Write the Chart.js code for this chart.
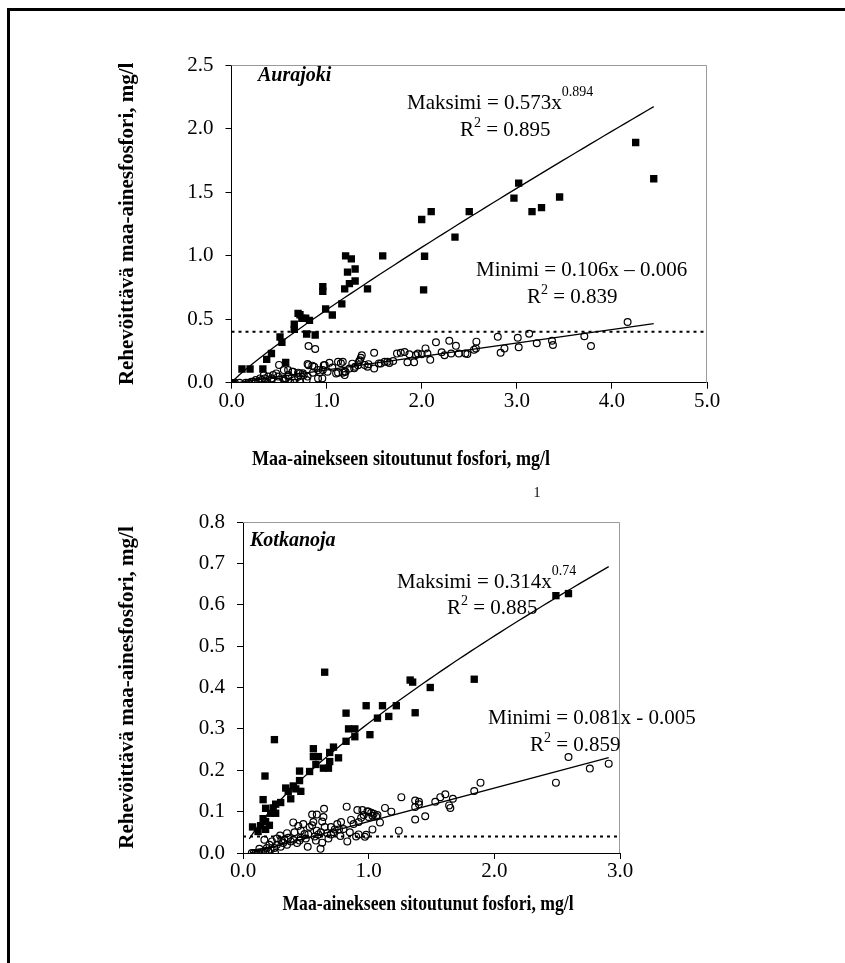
<!DOCTYPE html>
<html>
<head>
<meta charset="utf-8">
<script src="https://cdn.jsdelivr.net/npm/chart.js@4.4.1/dist/chart.umd.min.js"></script>
<style>
  html, body { margin: 0; padding: 0; background: #fff; }
  #page { position: relative; width: 845px; height: 963px; overflow: hidden; background: #fff; }
  #frame { position: absolute; left: 7px; top: 8px; width: 900px; height: 1000px;
           border-left: 3px solid #000; border-top: 3px solid #000; }
  canvas { position: absolute; left: 0; }
  #aura { top: 0; }
  #kotka { top: 480px; }
</style>
</head>
<body>
<div id="page">
  <div id="frame"></div>
  <canvas id="aura" width="845" height="480"></canvas>
  <canvas id="kotka" width="845" height="483"></canvas>
</div>
<script>
// Aurajoki: [soil-bound P, eutrophying P] mg/l
const auraMaksimi = [
  [0.01,0.0],[0.11,0.108],[0.195,0.108],[0.33,0.108],[0.37,0.184],[0.42,0.23],[0.51,0.36],[0.53,0.318],
  [0.57,0.16],[0.66,0.42],[0.66,0.46],[0.70,0.546],[0.72,0.535],[0.74,0.507],[0.78,0.507],[0.82,0.49],
  [0.79,0.383],[0.88,0.375],[0.96,0.756],[0.96,0.72],[0.99,0.58],[1.06,0.533],[1.16,0.62],[1.19,0.738],
  [1.20,0.998],[1.26,0.974],[1.22,0.87],[1.30,0.895],[1.24,0.78],[1.30,0.80],[1.43,0.738],[1.59,0.998],
  [2.00,1.284],[2.10,1.346],[2.03,0.995],[2.02,0.73],[2.35,1.146],[2.50,1.346],[2.97,1.453],[3.02,1.57],
  [3.16,1.346],[3.26,1.378],[3.45,1.461],[4.25,1.89],[4.44,1.605]
];
const auraMinimi = [
  [4.165,0.478],[3.71,0.365],[3.78,0.289],[3.37,0.33],[3.38,0.297],[3.21,0.31],[3.13,0.385],[3.01,0.354],
  [3.02,0.279],[2.80,0.362],[2.87,0.27],[2.83,0.236],[2.575,0.323],[2.57,0.27],[2.55,0.26],[2.46,0.23],
  [2.48,0.226],[2.39,0.23],[2.36,0.29],[2.29,0.33],[2.31,0.23],[2.24,0.216],[2.21,0.24],[2.15,0.318],
  [2.09,0.18],[2.04,0.27],[2.06,0.23],[2.00,0.224],[1.94,0.218],[1.96,0.23],[1.92,0.16],[1.85,0.16],
  [1.87,0.224],[1.82,0.242],[1.78,0.235],[1.74,0.229],[1.70,0.17],[1.66,0.156],[1.61,0.164],[1.57,0.151],
  [1.50,0.236],[1.50,0.112],[1.44,0.146],[1.40,0.14],[1.37,0.216],[1.36,0.196],[1.35,0.177],[1.33,0.138],
  [1.30,0.125],[1.27,0.15],[1.24,0.112],[1.19,0.086],[1.17,0.164],[1.12,0.165],[1.15,0.153],[1.10,0.073],
  [1.19,0.06],[1.06,0.12],[1.03,0.157],[0.98,0.139],[0.97,0.138],[0.955,0.034],[0.93,0.08],[0.91,0.099],
  [0.87,0.125],[0.81,0.289],[0.88,0.265],[0.80,0.147],[0.85,0.134],[0.81,0.138],[0.79,0.021],[0.76,0.06],
  [0.72,0.073],[0.70,0.047],[0.64,0.086],[0.60,0.06],[0.57,0.034],[0.55,0.099],[0.50,0.14],[0.47,0.073],
  [0.42,0.034],[0.38,0.0],[0.34,0.06],[0.30,0.034],[0.255,0.021],[0.21,0.008],[0.15,0.0],[0.085,0.0],
  [0.034,0.0],[0.62,0.0],[0.66,0.0],[0.595,0.10],[0.647,0.087],[0.70,0.079],[0.75,0.074],[0.386,0.048],
  [0.438,0.061],[0.49,0.048],[0.543,0.034],[0.595,0.048],[0.317,0.021],[0.282,0.008],[0.23,0.008],[0.177,0.0],
  [0.96,0.10],[1.01,0.087],[1.12,0.079],[1.17,0.079],[1.20,0.087],[0.80,0.048],[0.856,0.079],[0.91,0.034],
  [0.665,0.021],[0.717,0.008],[0.49,0.008],[0.56,0.016],[0.42,0.021],[0.35,0.034],[1.29,0.113],[1.34,0.165],
  [1.43,0.126],[1.55,0.152],[1.64,0.165]
];
// Kotkanoja
const kotkaMaksimi = [
  [2.49,0.622],[2.59,0.627],[1.84,0.42],[1.49,0.40],[1.33,0.418],[1.35,0.413],[1.37,0.339],[1.22,0.356],
  [1.11,0.356],[1.16,0.33],[1.07,0.326],[0.98,0.356],[1.01,0.286],[0.82,0.338],[0.84,0.30],[0.89,0.30],
  [0.82,0.27],[0.89,0.281],[0.65,0.437],[0.76,0.23],[0.72,0.256],[0.69,0.243],[0.69,0.221],[0.64,0.205],
  [0.68,0.205],[0.56,0.252],[0.56,0.233],[0.60,0.233],[0.58,0.214],[0.53,0.197],[0.45,0.198],[0.45,0.175],
  [0.42,0.155],[0.40,0.162],[0.34,0.157],[0.36,0.149],[0.38,0.131],[0.46,0.149],[0.30,0.122],[0.25,0.274],
  [0.175,0.186],[0.16,0.129],[0.18,0.108],[0.24,0.109],[0.26,0.118],[0.22,0.096],[0.26,0.096],[0.18,0.076],
  [0.16,0.083],[0.14,0.066],[0.21,0.067],[0.18,0.057],[0.12,0.052],[0.076,0.063]
];
const kotkaMinimi = [
  [2.91,0.216],[2.76,0.204],[2.59,0.232],[2.49,0.170],[1.89,0.170],[1.84,0.150],[1.67,0.131],[1.65,0.109],
  [1.64,0.115],[1.61,0.142],[1.57,0.135],[1.53,0.124],[1.45,0.089],[1.40,0.124],[1.40,0.118],[1.37,0.127],
  [1.37,0.111],[1.37,0.081],[1.26,0.135],[1.24,0.054],[1.18,0.100],[1.13,0.109],[1.09,0.074],[1.07,0.092],
  [1.04,0.095],[1.03,0.090],[1.00,0.100],[1.00,0.087],[1.03,0.057],[0.98,0.044],[0.97,0.039],
  [0.825,0.112],[0.91,0.104],[0.95,0.104],[0.99,0.101],[1.02,0.097],[1.06,0.088],[0.645,0.107],[0.55,0.093],
  [0.587,0.093],[0.40,0.074],[0.64,0.087],[0.63,0.076],[0.65,0.063],[0.70,0.063],[0.73,0.057],[0.764,0.057],
  [0.80,0.058],[0.775,0.041],[0.83,0.028],[0.53,0.063],[0.55,0.067],[0.587,0.054],[0.46,0.054],[0.49,0.046],
  [0.46,0.037],[0.515,0.015],[0.617,0.010],[0.41,0.050],[0.40,0.032],[0.43,0.024],[0.36,0.037],[0.33,0.032],
  [0.32,0.024],[0.30,0.015],[0.295,0.042],[0.23,0.028],[0.17,0.032],
  [0.25,0.012],[0.22,0.008],[0.20,0.005],[0.18,0.005],[0.16,0.003],[0.14,0.002],[0.12,0.001],[0.10,0.0],
  [0.085,0.0],[0.07,0.0],[0.27,0.02],[0.35,0.02],[0.38,0.028],[0.45,0.03],[0.50,0.035],[0.52,0.045],
  [0.57,0.04],[0.60,0.045],[0.62,0.05],[0.67,0.048],[0.70,0.045],[0.72,0.05],[0.68,0.035],[0.75,0.07],
  [0.78,0.075],[0.86,0.08],[0.88,0.07],[0.92,0.075],[0.94,0.085],[0.96,0.092],[0.90,0.04],[0.92,0.045],
  [0.85,0.05],[0.56,0.075],[0.48,0.07],[0.44,0.065],[0.58,0.03],[0.63,0.025],[0.35,0.048],[0.27,0.035],
  [0.13,0.01],[0.19,0.012],[0.21,0.02],[0.305,0.03],[0.255,0.0]
];

// fitted equations printed on the chart: power a*x^b, linear a*x+b
const auraMaxFit = [0.573, 0.894];
const auraMinFit = [0.106, -0.006];
const auraFitRange = [0.01, 4.44];
const kotkaMaxFit = [0.314, 0.74];
const kotkaMinFit = [0.081, -0.005];
const kotkaFitRange = [0.05, 2.91];
// dotted threshold lines
const auraLimit = 0.4;
const kotkaLimit = 0.04;

const auraXTicks = [0, 5, 1];
const auraYTicks = [0, 2.5, 0.5];
const kotkaXTicks = [0, 3, 1];
const kotkaYTicks = [0, 0.8, 0.1];

const SERIF = "'Liberation Serif', 'Times New Roman', serif";
const xTitle = "Maa-ainekseen sitoutunut fosfori, mg/l";
const yTitle = "Rehevöittävä maa-ainesfosfori, mg/l";

function pts(list) { return list.map(p => ({ x: p[0], y: p[1] })); }

function powerCurve(fit, range) {
  const out = [];
  const n = 60;
  for (let i = 0; i <= n; i++) {
    const x = range[0] + (range[1] - range[0]) * i / n;
    out.push({ x: x, y: fit[0] * Math.pow(x, fit[1]) });
  }
  return out;
}
function linear(fit, range) {
  const x0 = Math.max(range[0], -fit[1] / fit[0]);
  return [x0, range[1]].map(x => ({ x: x, y: fit[0] * x + fit[1] }));
}

// text annotations, x-axis title and grey plot frame
const notesPlugin = {
  id: 'notes',
  afterDraw(chart, args, opts) {
    const ctx = chart.ctx;
    const a = chart.chartArea;
    ctx.save();
    ctx.strokeStyle = '#9a9a9a';
    ctx.lineWidth = 1;
    ctx.beginPath();
    ctx.moveTo(a.left, a.top + 0.5);
    ctx.lineTo(a.right - 0.5, a.top + 0.5);
    ctx.lineTo(a.right - 0.5, a.bottom);
    ctx.stroke();
    ctx.fillStyle = '#000';
    ctx.textBaseline = 'middle';
    for (const n of opts.items) {
      ctx.save();
      ctx.translate(n.x, n.y);
      if (n.sx) ctx.scale(n.sx, 1);
      ctx.textAlign = n.center ? 'center' : 'left';
      let x = 0;
      for (const seg of n.parts) {
        ctx.font = seg.sup ? (n.supSize + 'px ' + SERIF) : n.font;
        ctx.fillText(seg.t, x, seg.sup ? -n.rise : 0);
        x += ctx.measureText(seg.t).width;
      }
      ctx.restore();
    }
    ctx.restore();
  }
};

function axisCfg(t, fixed, isX, pad) {
  const cfg = {
    type: 'linear',
    min: t[0], max: t[1],
    ticks: {
      stepSize: t[2],
      callback: v => Number(v).toFixed(1),
      color: '#000',
      font: { family: SERIF, size: 21 },
      padding: pad,
      maxRotation: 0,
      autoSkip: false
    },
    grid: { drawOnChartArea: false, color: '#000', lineWidth: 1, tickLength: 6 },
    border: { color: '#000', width: 1 },
    title: { display: !isX, text: yTitle, color: '#000', padding: 0,
             font: { family: SERIF, size: 21, weight: 'bold' } }
  };
  if (isX) cfg.afterFit = s => { s.height = fixed; };
  else cfg.afterFit = s => { s.width = fixed; };
  return cfg;
}

function scatterSet(list, square) {
  return {
    type: 'scatter',
    data: pts(list),
    showLine: false,
    pointStyle: square ? 'rect' : 'circle',
    pointRadius: square ? 5.2 : 3.4,
    pointHoverRadius: square ? 5.2 : 3.4,
    backgroundColor: square ? '#000' : 'rgba(0,0,0,0)',
    borderColor: '#000',
    borderWidth: square ? 0 : 1.2,
    order: 2
  };
}
function lineSet(data, dash) {
  return {
    type: 'line',
    data: data,
    borderColor: '#000',
    borderWidth: dash ? 2 : 1.3,
    borderDash: dash ? [3, 4] : [],
    pointRadius: 0,
    fill: false,
    tension: 0,
    order: 1
  };
}

function makeChart(id, cfg) {
  return new Chart(document.getElementById(id).getContext('2d'), {
    type: 'scatter',
    data: { datasets: cfg.datasets },
    options: {
      responsive: false,
      animation: false,
      events: [],
      layout: { padding: cfg.padding },
      plugins: { legend: { display: false }, tooltip: { enabled: false }, notes: { items: cfg.notes } },
      scales: {
        x: axisCfg(cfg.xt, cfg.xh, true, 0),
        y: axisCfg(cfg.yt, cfg.yw, false, 12)
      }
    },
    plugins: [notesPlugin]
  });
}

const ANN = '21px ' + SERIF;
const TAG = 'italic bold 20px ' + SERIF;
const XT = 'bold 21px ' + SERIF;

makeChart('aura', {
  datasets: [
    scatterSet(auraMaksimi, true),
    scatterSet(auraMinimi, false),
    lineSet(powerCurve(auraMaxFit, auraFitRange), false),
    lineSet(linear(auraMinFit, auraFitRange), false),
    lineSet([{ x: auraXTicks[0], y: auraLimit }, { x: auraXTicks[1], y: auraLimit }], true)
  ],
  padding: { left: 115.4, right: 138, top: 65, bottom: 57.3 },
  xh: 40, yw: 116.1,
  xt: auraXTicks, yt: auraYTicks,
  notes: [
    { x: 401, y: 460, font: XT, center: true, sx: 0.86, parts: [{ t: xTitle }] },
    { x: 258, y: 76, font: TAG, parts: [{ t: 'Aurajoki' }] },
    { x: 407, y: 103, font: ANN, supSize: 14, rise: 11, parts: [{ t: 'Maksimi = 0.573x' }, { t: '0.894', sup: true }] },
    { x: 460, y: 130, font: ANN, supSize: 14, rise: 7, parts: [{ t: 'R' }, { t: '2', sup: true }, { t: ' = 0.895' }] },
    { x: 476, y: 270, font: ANN, parts: [{ t: 'Minimi = 0.106x \u2013 0.006' }] },
    { x: 527, y: 297, font: ANN, supSize: 14, rise: 7, parts: [{ t: 'R' }, { t: '2', sup: true }, { t: ' = 0.839' }] }
  ]
});

makeChart('kotka', {
  datasets: [
    scatterSet(kotkaMaksimi, true),
    scatterSet(kotkaMinimi, false),
    lineSet(powerCurve(kotkaMaxFit, kotkaFitRange), false),
    lineSet(linear(kotkaMinFit, kotkaFitRange), false),
    lineSet([{ x: kotkaXTicks[0], y: kotkaLimit }, { x: kotkaXTicks[1], y: kotkaLimit }], true)
  ],
  padding: { left: 115.4, right: 225, top: 42, bottom: 70 },
  xh: 40, yw: 127.6,
  xt: kotkaXTicks, yt: kotkaYTicks,
  notes: [
    { x: 428, y: 425, font: XT, center: true, sx: 0.84, parts: [{ t: xTitle }] },
    { x: 537, y: 13, font: '14px ' + SERIF, center: true, parts: [{ t: '1' }] },
    { x: 250, y: 61, font: TAG, parts: [{ t: 'Kotkanoja' }] },
    { x: 397, y: 102, font: ANN, supSize: 14, rise: 11, parts: [{ t: 'Maksimi = 0.314x' }, { t: '0.74', sup: true }] },
    { x: 447, y: 128, font: ANN, supSize: 14, rise: 7, parts: [{ t: 'R' }, { t: '2', sup: true }, { t: ' = 0.885' }] },
    { x: 488, y: 238, font: ANN, parts: [{ t: 'Minimi = 0.081x - 0.005' }] },
    { x: 530, y: 265, font: ANN, supSize: 14, rise: 7, parts: [{ t: 'R' }, { t: '2', sup: true }, { t: ' = 0.859' }] }
  ]
});
</script>
</body>
</html>
